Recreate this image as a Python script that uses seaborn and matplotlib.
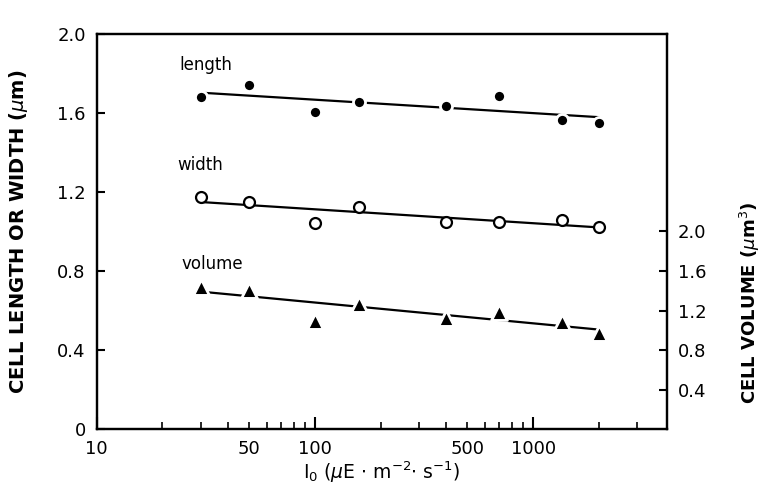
import numpy as np
import matplotlib.pyplot as plt
import seaborn as sns
from matplotlib.ticker import FixedLocator, FuncFormatter

# Data (I0 in uE m-2 s-1)
irradiance = [30, 50, 100, 160, 400, 700, 1350, 2000]
cell_length = [1.68, 1.74, 1.605, 1.655, 1.635, 1.686, 1.565, 1.55]
cell_width = [1.175, 1.15, 1.043, 1.125, 1.048, 1.048, 1.058, 1.022]
cell_volume = [1.44, 1.41, 1.09, 1.27, 1.12, 1.18, 1.08, 0.97]  # um^3, right axis

major_x = [10, 100, 1000]
minor_x = [20, 30, 40, 50, 60, 70, 80, 90, 200, 300, 400, 500, 600, 700, 800, 900, 2000, 3000]
minor_labels = {50: '50', 500: '500'}
left_ticks = [0, 0.4, 0.8, 1.2, 1.6, 2.0]
left_labels = ['0', '0.4', '0.8', '1.2', '1.6', '2.0']
right_ticks = [0.4, 0.8, 1.2, 1.6, 2.0]

sns.set_style('ticks', {'axes.edgecolor': 'black', 'text.color': 'black',
                        'axes.labelcolor': 'black', 'xtick.color': 'black',
                        'ytick.color': 'black'})
plt.rcParams['font.family'] = ['DejaVu Sans']

fig = plt.figure(figsize=(7.62, 4.92), dpi=100)
ax = fig.add_axes([0.127, 0.128, 0.748, 0.803])
ax2 = ax.twinx()

line_kw = dict(color='black', lw=1.6, zorder=1)

# length: filled circles
sns.regplot(x=irradiance, y=cell_length, logx=True, ci=None, ax=ax,
            marker='o', line_kws=line_kw,
            scatter_kws=dict(s=75, color='black', edgecolors='white', linewidths=2.0,
                             alpha=1, zorder=3))
# width: open circles
sns.regplot(x=irradiance, y=cell_width, logx=True, ci=None, ax=ax,
            marker='o', line_kws=line_kw,
            scatter_kws=dict(s=62, facecolors='white', edgecolors='black', linewidths=1.6,
                             alpha=1, zorder=3))
# volume: filled triangles on the right axis
sns.regplot(x=irradiance, y=cell_volume, logx=True, ci=None, ax=ax2,
            marker='^', line_kws=line_kw,
            scatter_kws=dict(s=130, color='black', edgecolors='white', linewidths=2.0,
                             alpha=1, zorder=3))

ax.set_xscale('log')
ax.set_xlim(10, 4100)
ax.set_ylim(0, 2.0)
ax2.set_ylim(0, 4.0)

ax.xaxis.set_major_locator(FixedLocator(major_x))
ax.xaxis.set_minor_locator(FixedLocator(minor_x))
ax.xaxis.set_major_formatter(FuncFormatter(lambda v, p: f'{int(v)}'))
ax.xaxis.set_minor_formatter(FuncFormatter(lambda v, p: minor_labels.get(int(round(v)), '')))

ax.set_yticks(left_ticks)
ax.set_yticklabels(left_labels)
ax2.set_yticks(right_ticks)
ax2.set_yticklabels([f'{v:.1f}' for v in right_ticks])

ax.tick_params(axis='x', which='major', direction='in', length=9, width=1.5, labelsize=13, pad=8)
ax.tick_params(axis='x', which='minor', direction='in', length=5, width=1.2, labelsize=13, pad=8)
ax.tick_params(axis='y', direction='in', length=6, width=1.5, labelsize=13, pad=8)
ax2.tick_params(axis='y', direction='in', length=6, width=1.5, labelsize=13, pad=8)

for a in (ax, ax2):
    for sp in a.spines.values():
        sp.set_visible(True)
        sp.set_linewidth(1.6)
        sp.set_color('black')

ax.set_xlabel(r'I$_0$ ($\mu$E $\cdot$ m$^{-2}$$\cdot$ s$^{-1}$)', fontsize=13.5)
ax.xaxis.set_label_coords(0.5, -0.078)
ax.set_ylabel(r'CELL LENGTH OR WIDTH ($\mu$m)', fontsize=14, fontweight='bold')
ax.yaxis.set_label_coords(-0.117, 0.5)
ax2.set_ylabel(r'CELL VOLUME ($\mu$m$^3$)', fontsize=13, fontweight='bold')
ax2.yaxis.set_label_coords(1.124, 0.32)

ax.text(24, 1.82, 'length', fontsize=12)
ax.text(23.5, 1.31, 'width', fontsize=12)
ax.text(24.5, 0.81, 'volume', fontsize=12)

fig.savefig('out.png', dpi=100)
